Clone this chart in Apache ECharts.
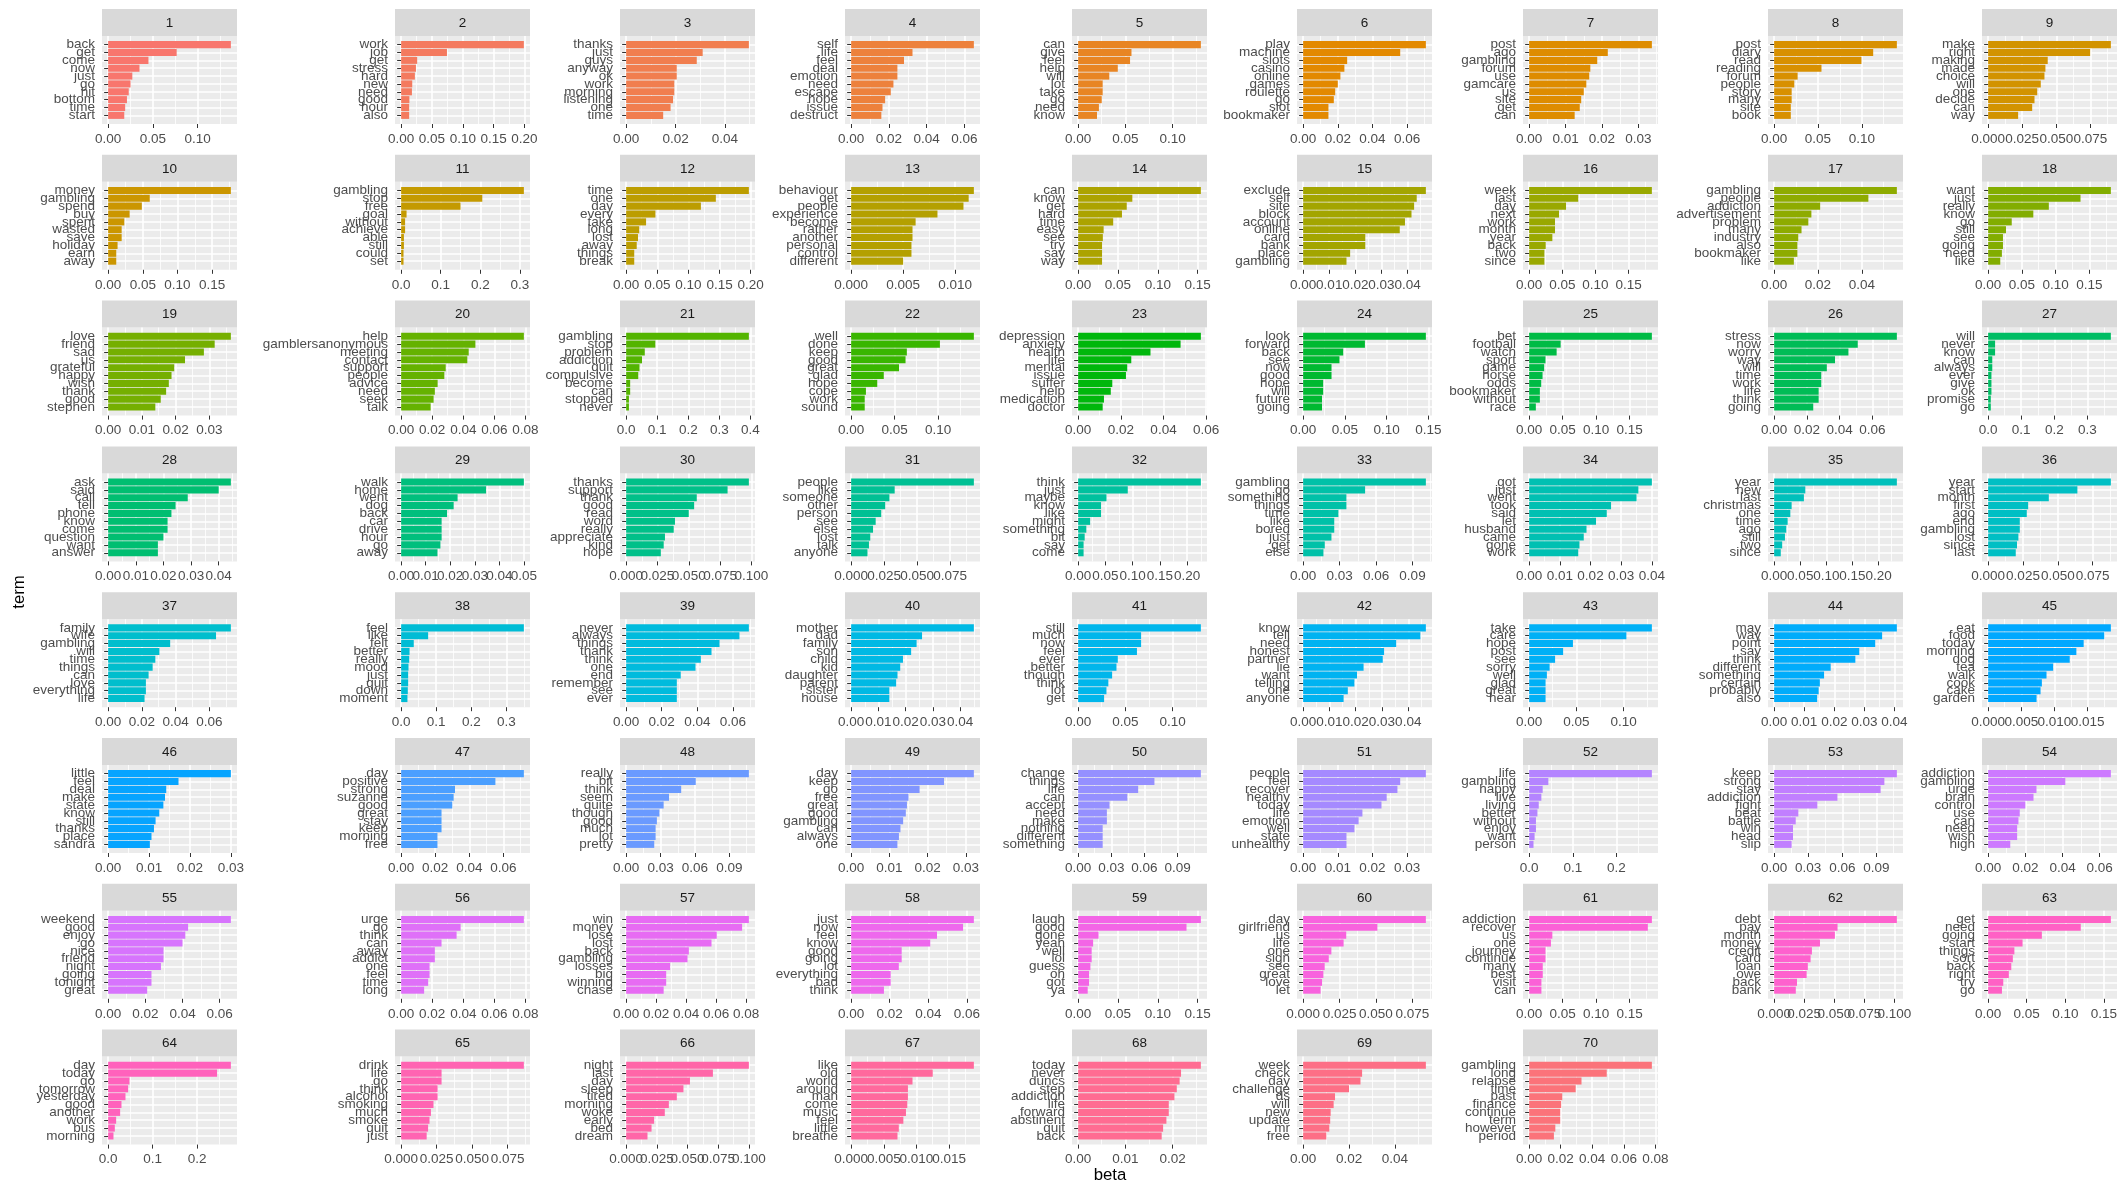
<!DOCTYPE html>
<html>
<head>
<meta charset="utf-8">
<script src="https://cdn.jsdelivr.net/npm/echarts@6/dist/echarts.min.js"></script>
<style>
  html, body { margin: 0; padding: 0; background: #ffffff; }
  #chart { width: 2123px; height: 1187px; }
</style>
</head>
<body>
<div id="chart"></div>
<script>
// Top 10 terms per topic with their per-topic word probabilities (beta)
const terms = [
  ['back','get','come','now','just','go','hit','bottom','time','start'],
  ['work','job','get','stress','hard','new','need','good','hour','also'],
  ['thanks','just','guys','anyway','ok','work','morning','listening','one','time'],
  ['self','life','feel','deal','emotion','need','escape','hope','issue','destruct'],
  ['can','give','feel','help','will','lot','take','go','need','know'],
  ['play','machine','slots','casino','online','games','roulette','go','slot','bookmaker'],
  ['post','ago','gambling','forum','use','gamcare','us','site','get','can'],
  ['post','diary','read','reading','forum','people','story','many','site','book'],
  ['make','right','making','made','choice','will','one','decide','can','way'],
  ['money','gambling','spend','buy','spent','wasted','save','holiday','earn','away'],
  ['gambling','stop','free','goal','without','achieve','able','still','could','set'],
  ['time','one','day','every','take','long','lost','away','things','break'],
  ['behaviour','get','people','experience','become','rather','another','personal','control','different'],
  ['can','know','get','hard','time','easy','see','try','say','way'],
  ['exclude','self','site','block','account','online','card','bank','place','gambling'],
  ['week','last','day','next','work','month','year','back','two','since'],
  ['gambling','people','addiction','advertisement','problem','many','industry','also','bookmaker','like'],
  ['want','just','really','know','go','still','see','going','need','like'],
  ['love','friend','sad','us','grateful','happy','wish','thank','good','stephen'],
  ['help','gamblersanonymous','meeting','contact','support','people','advice','need','seek','talk'],
  ['gambling','stop','problem','addiction','quit','compulsive','become','can','stopped','never'],
  ['well','done','keep','good','great','glad','hope','cope','work','sound'],
  ['depression','anxiety','health','life','mental','issue','suffer','help','medication','doctor'],
  ['look','forward','back','see','now','good','hope','will','future','going'],
  ['bet','football','watch','sport','game','horse','odds','bookmaker','without','race'],
  ['stress','now','worry','way','will','time','work','life','think','going'],
  ['will','never','know','can','always','ever','give','ok','promise','go'],
  ['ask','said','call','tell','phone','know','come','question','want','answer'],
  ['walk','home','went','dog','back','car','drive','hour','go','away'],
  ['thanks','support','thank','good','read','word','really','appreciate','kind','hope'],
  ['people','like','someone','other','person','see','else','lost','talk','anyone'],
  ['think','just','maybe','know','like','might','something','bit','say','come'],
  ['gambling','go','something','things','time','like','bored','just','get','else'],
  ['got','just','went','took','said','let','husband','came','gone','work'],
  ['year','new','last','christmas','one','time','ago','still','two','since'],
  ['year','start','month','first','ago','end','gambling','lost','since','last'],
  ['family','wife','gambling','will','time','things','can','love','everything','life'],
  ['feel','like','felt','better','really','mood','just','quit','down','moment'],
  ['never','always','things','thank','think','one','end','remember','see','ever'],
  ['mother','dad','family','son','child','kid','daughter','parent','sister','house'],
  ['still','much','now','feel','ever','better','though','think','lot','get'],
  ['know','tell','need','honest','partner','lie','want','telling','one','anyone'],
  ['take','care','hope','post','see','sorry','well','glad','great','hear'],
  ['may','way','point','say','think','different','something','certain','probably','also'],
  ['eat','food','today','morning','dog','tea','walk','cook','cake','garden'],
  ['little','feel','deal','make','state','know','still','thanks','place','sandra'],
  ['day','positive','strong','suzanne','good','great','stay','keep','morning','free'],
  ['really','bit','think','seem','quite','though','good','much','lot','pretty'],
  ['day','keep','go','free','great','good','gambling','can','always','one'],
  ['change','things','life','can','accept','need','make','nothing','different','something'],
  ['people','feel','recover','healthy','today','life','emotion','well','state','unhealthy'],
  ['life','gambling','happy','live','living','better','without','enjoy','want','person'],
  ['keep','strong','stay','addiction','fight','beat','battle','win','head','slip'],
  ['addiction','gambling','urge','brain','control','use','can','need','wish','high'],
  ['weekend','good','enjoy','go','nice','friend','night','going','tonight','great'],
  ['urge','go','think','can','away','addict','one','feel','time','long'],
  ['win','money','lose','lost','back','gambling','losses','big','winning','chase'],
  ['just','now','feel','know','good','going','lot','everything','bad','think'],
  ['laugh','good','gone','yeah','well','lol','guess','oh','got','ya'],
  ['day','girlfriend','us','life','one','sign','see','great','love','let'],
  ['addiction','recover','us','one','journey','continue','many','best','visit','can'],
  ['debt','pay','month','money','credit','card','loan','owe','back','bank'],
  ['get','need','going','start','things','sort','back','right','try','go'],
  ['day','today','go','tomorrow','yesterday','good','another','work','bus','morning'],
  ['drink','life','go','think','alcohol','smoking','much','smoke','quit','just'],
  ['night','last','day','sleep','tired','morning','woke','early','bed','dream'],
  ['like','old','world','around','man','come','music','feel','little','breathe'],
  ['today','never','duncs','step','addiction','life','forward','abstinent','quit','back'],
  ['week','check','day','challenge','ds','will','new','update','mr','free'],
  ['gambling','long','relapse','time','past','finance','continue','term','however','period']
];

const betas = [
  [0.137,0.0765,0.045,0.035,0.027,0.025,0.023,0.021,0.019,0.018],
  [0.199,0.0743,0.026,0.024,0.0223,0.018,0.0175,0.0134,0.013,0.013],
  [0.0497,0.031,0.0286,0.0205,0.0205,0.0195,0.0195,0.019,0.018,0.015],
  [0.065,0.0325,0.028,0.0245,0.0245,0.0224,0.021,0.018,0.0166,0.016],
  [0.130,0.0565,0.055,0.042,0.033,0.026,0.026,0.025,0.022,0.020],
  [0.0708,0.056,0.0254,0.0238,0.0215,0.020,0.0185,0.0177,0.0146,0.0146],
  [0.0337,0.0216,0.0187,0.0168,0.0165,0.0157,0.015,0.0143,0.0139,0.0125],
  [0.140,0.113,0.0996,0.054,0.0268,0.023,0.020,0.020,0.019,0.019],
  [0.090,0.0748,0.0437,0.042,0.0413,0.0386,0.036,0.034,0.0323,0.022],
  [0.177,0.060,0.0486,0.031,0.0233,0.0195,0.0195,0.0136,0.0117,0.0117],
  [0.31,0.205,0.150,0.0137,0.010,0.010,0.007,0.007,0.006,0.006],
  [0.197,0.144,0.120,0.047,0.032,0.021,0.019,0.017,0.013,0.013],
  [0.0118,0.0113,0.0108,0.0083,0.0062,0.0059,0.0059,0.0058,0.0058,0.005],
  [0.154,0.068,0.061,0.055,0.044,0.032,0.031,0.030,0.030,0.030],
  [0.047,0.0435,0.0425,0.0415,0.039,0.037,0.0238,0.0238,0.018,0.0166],
  [0.185,0.074,0.0556,0.045,0.039,0.039,0.035,0.025,0.023,0.023],
  [0.056,0.043,0.021,0.017,0.0156,0.0125,0.011,0.0106,0.0106,0.009],
  [0.182,0.137,0.090,0.067,0.035,0.0265,0.022,0.022,0.0204,0.018],
  [0.0364,0.0316,0.0284,0.0228,0.0196,0.0188,0.018,0.0172,0.0156,0.014],
  [0.079,0.0478,0.0435,0.0426,0.0287,0.0278,0.0235,0.0217,0.0209,0.019],
  [0.395,0.094,0.060,0.051,0.043,0.039,0.013,0.013,0.009,0.009],
  [0.141,0.102,0.064,0.0625,0.055,0.0375,0.030,0.017,0.0156,0.0156],
  [0.0575,0.048,0.0339,0.0249,0.023,0.0224,0.016,0.0153,0.0121,0.0115],
  [0.147,0.074,0.048,0.0435,0.034,0.034,0.024,0.024,0.0226,0.0226],
  [0.183,0.047,0.041,0.0244,0.0224,0.020,0.018,0.016,0.016,0.010],
  [0.075,0.0511,0.0454,0.0372,0.0322,0.0288,0.0288,0.0272,0.0272,0.0239],
  [0.371,0.021,0.021,0.0125,0.0125,0.010,0.010,0.010,0.008,0.008],
  [0.0444,0.040,0.0288,0.0244,0.0229,0.0215,0.0215,0.020,0.018,0.018],
  [0.050,0.0346,0.023,0.0214,0.0187,0.0165,0.0165,0.0165,0.016,0.0148],
  [0.098,0.081,0.0564,0.0543,0.050,0.039,0.038,0.031,0.030,0.0277],
  [0.093,0.033,0.029,0.0258,0.0228,0.0186,0.0166,0.0145,0.0135,0.0124],
  [0.225,0.091,0.052,0.042,0.042,0.022,0.015,0.012,0.010,0.010],
  [0.101,0.051,0.0356,0.0356,0.029,0.0256,0.0256,0.0233,0.0178,0.0167],
  [0.040,0.0356,0.035,0.0267,0.0253,0.0218,0.0187,0.0178,0.0164,0.016],
  [0.235,0.0597,0.057,0.0335,0.031,0.0259,0.0232,0.0207,0.0154,0.0127],
  [0.088,0.064,0.0435,0.0287,0.0277,0.0227,0.0227,0.0217,0.0207,0.0198],
  [0.0728,0.064,0.0368,0.0304,0.028,0.0264,0.024,0.0224,0.0224,0.0216],
  [0.35,0.077,0.036,0.024,0.023,0.021,0.020,0.020,0.019,0.018],
  [0.069,0.0637,0.0525,0.048,0.042,0.039,0.0307,0.0285,0.0285,0.0285],
  [0.045,0.026,0.024,0.022,0.019,0.018,0.017,0.0165,0.014,0.014],
  [0.130,0.0667,0.0667,0.0623,0.042,0.0406,0.036,0.032,0.030,0.0275],
  [0.0467,0.0446,0.0354,0.0308,0.0303,0.023,0.0205,0.0195,0.017,0.0154],
  [0.130,0.103,0.0464,0.036,0.0275,0.0217,0.0188,0.0174,0.0174,0.0174],
  [0.0408,0.0359,0.0336,0.0283,0.027,0.0188,0.0166,0.0152,0.0148,0.0143],
  [0.0185,0.0175,0.0144,0.0133,0.0123,0.0098,0.0088,0.0081,0.0079,0.0073],
  [0.030,0.0172,0.0142,0.0139,0.0135,0.0125,0.0116,0.0112,0.0106,0.0102],
  [0.072,0.0553,0.0316,0.0308,0.030,0.0237,0.0237,0.0237,0.0213,0.0213],
  [0.107,0.0607,0.048,0.0374,0.0327,0.029,0.0268,0.0257,0.0257,0.0245],
  [0.0321,0.0243,0.0179,0.015,0.0146,0.0143,0.0136,0.0129,0.0125,0.0121],
  [0.111,0.069,0.0543,0.0445,0.0284,0.026,0.026,0.0222,0.0222,0.0222],
  [0.0354,0.028,0.0272,0.0241,0.0226,0.0171,0.016,0.0148,0.0125,0.0125],
  [0.281,0.044,0.031,0.028,0.022,0.019,0.0156,0.0156,0.0125,0.010],
  [0.108,0.097,0.0937,0.0557,0.038,0.0213,0.019,0.0166,0.0166,0.0154],
  [0.066,0.0415,0.026,0.0244,0.020,0.017,0.0163,0.0156,0.0156,0.0119],
  [0.066,0.043,0.0415,0.040,0.0298,0.0298,0.0284,0.0233,0.0233,0.021],
  [0.079,0.0383,0.0357,0.026,0.0217,0.0217,0.0183,0.0183,0.0174,0.0148],
  [0.0818,0.0773,0.0604,0.0569,0.0418,0.0409,0.0293,0.0267,0.0267,0.025],
  [0.0636,0.058,0.0445,0.041,0.0262,0.0262,0.0247,0.0205,0.0205,0.017],
  [0.154,0.136,0.0256,0.0188,0.017,0.017,0.0154,0.0137,0.0137,0.012],
  [0.0843,0.051,0.0296,0.0278,0.0194,0.0176,0.0148,0.0139,0.013,0.012],
  [0.183,0.177,0.0346,0.0325,0.0244,0.0244,0.0203,0.0203,0.0183,0.0183],
  [0.102,0.0527,0.0505,0.0381,0.0314,0.0303,0.028,0.027,0.019,0.018],
  [0.159,0.12,0.0696,0.0446,0.034,0.032,0.030,0.0268,0.0196,0.0179],
  [0.276,0.245,0.048,0.045,0.039,0.030,0.027,0.018,0.015,0.012],
  [0.0865,0.0285,0.0285,0.0257,0.0257,0.0228,0.021,0.020,0.019,0.018],
  [0.100,0.0707,0.052,0.0467,0.0413,0.0348,0.0315,0.0228,0.0207,0.0174],
  [0.0188,0.0125,0.0094,0.0087,0.0087,0.0086,0.0084,0.008,0.0073,0.0071],
  [0.026,0.0218,0.0215,0.0209,0.0204,0.0192,0.0192,0.0187,0.018,0.0177],
  [0.0535,0.0257,0.025,0.020,0.0139,0.0133,0.012,0.0118,0.0114,0.0101],
  [0.0778,0.0492,0.0332,0.0295,0.021,0.0203,0.0197,0.0197,0.0166,0.0157]
];

// Spacing between the labelled x-axis breaks of each topic panel
const tickSteps = [
  0.05,0.05,0.02,0.02,0.05,0.02,0.01,0.05,0.025,
  0.05,0.1,0.05,0.005,0.05,0.01,0.05,0.02,0.05,
  0.01,0.02,0.1,0.05,0.02,0.05,0.05,0.02,0.1,
  0.01,0.01,0.025,0.025,0.05,0.03,0.01,0.05,0.025,
  0.02,0.1,0.02,0.01,0.05,0.01,0.05,0.01,0.005,
  0.01,0.02,0.03,0.01,0.03,0.01,0.1,0.03,0.02,
  0.02,0.02,0.02,0.02,0.05,0.025,0.05,0.025,0.05,
  0.1,0.025,0.025,0.005,0.01,0.02,0.02
];

// Topic strip labels
const topics = terms.map((_, i) => String(i + 1));

// ---- layout of the facet grid ----
const FONT = '"Liberation Sans", Arial, sans-serif';
const COL_LEFT = [102, 395, 620, 845, 1072, 1297, 1523, 1768, 1982];
const PANEL_W = 135, STRIP_H = 27, PANEL_H = 88;
const ROW0 = 9, ROW_PITCH = 145.8;
const N_COLS = 9;

// R-style hcl() colour (polar Luv -> sRGB), as used by the default discrete hue scale
function hcl(h, c, l) {
  const hr = h * Math.PI / 180;
  const U = c * Math.cos(hr), V = c * Math.sin(hr);
  const WX = 95.047, WY = 100.0, WZ = 108.883;
  const Y = WY * (l > 7.999592 ? Math.pow((l + 16) / 116, 3) : l / 903.3);
  const t = WX + WY + WZ, x = WX / t, y = WY / t;
  const uN = 2 * x / (6 * y - x + 1.5), vN = 4.5 * y / (6 * y - x + 1.5);
  const u = U / (13 * l) + uN, v = V / (13 * l) + vN;
  const X = 9.0 * Y * u / (4 * v);
  const Z = -X / 3 - 5 * Y + 3 * Y / v;
  const g = q => {
    const r = q > 0.00304 ? 1.055 * Math.pow(q, 1 / 2.4) - 0.055 : 12.92 * q;
    return Math.round(255 * Math.min(1, Math.max(0, r)));
  };
  const R = g((3.240479 * X - 1.537150 * Y - 0.498535 * Z) / WY);
  const G = g((-0.969256 * X + 1.875992 * Y + 0.041556 * Z) / WY);
  const B = g((0.055648 * X - 0.204043 * Y + 1.057311 * Z) / WY);
  return 'rgb(' + R + ',' + G + ',' + B + ')';
}
const nTopics = terms.length;
const palette = terms.map((_, i) => hcl(15 + 360 * i / nTopics, 100, 65));

function decimalsOf(step) {
  let d = 0;
  while (d < 6 && Math.abs(Math.round(step * Math.pow(10, d)) - step * Math.pow(10, d)) > 1e-9) d++;
  return d;
}

const grids = [], xAxes = [], yAxes = [], series = [], graphics = [];

terms.forEach((termList, i) => {
  const col = i % N_COLS, row = Math.floor(i / N_COLS);
  const left = COL_LEFT[col];
  const stripTop = ROW0 + row * ROW_PITCH;
  const panelTop = stripTop + STRIP_H;
  const vals = betas[i];
  const vmax = Math.max.apply(null, vals);
  const lo = -0.05 * vmax, hi = 1.05 * vmax;   // 5% continuous expansion
  const step = tickSteps[i];
  const dec = decimalsOf(step);
  const major = [], minor = [];
  for (let k = 0; k * step <= hi + 1e-12; k++) major.push(+(k * step).toFixed(8));
  for (let k = 0; (k + 0.5) * step <= hi; k++) minor.push(+((k + 0.5) * step).toFixed(8));
  // labels are split over two axes (alternate breaks) so crowded labels all stay drawn
  const evenLabels = major.filter((_, k) => k % 2 === 0);
  const oddLabels = major.filter((_, k) => k % 2 === 1);

  // strip header
  graphics.push({
    type: 'rect', silent: true, z: 0,
    shape: { x: left, y: stripTop, width: PANEL_W, height: STRIP_H },
    style: { fill: '#D9D9D9' }
  });
  graphics.push({
    type: 'text', silent: true, z: 1,
    x: left + PANEL_W / 2, y: stripTop + STRIP_H / 2 + 0.5,
    style: { text: topics[i], fill: '#1A1A1A', fontSize: 13.5, fontFamily: FONT, align: 'center', verticalAlign: 'middle' }
  });

  // panel background + vertical grid lines (full panel height)
  const gA = grids.length;
  grids.push({ left: left, top: panelTop, width: PANEL_W, height: PANEL_H, show: true, backgroundColor: '#EBEBEB', borderWidth: 0 });
  // inner band area for the discrete axis (0.6 category expansion each side)
  const pad = PANEL_H * 0.6 / (termList.length + 1.2);
  const gB = grids.length;
  grids.push({ left: left, top: panelTop + pad, width: PANEL_W, height: PANEL_H - 2 * pad, show: false });

  // major breaks: ticks + grid lines
  xAxes.push({
    gridIndex: gA, type: 'value', position: 'bottom', offset: 0, min: lo, max: hi,
    axisLine: { show: false },
    axisTick: { show: true, customValues: major, length: 4, lineStyle: { color: '#333333', width: 1 } },
    axisLabel: { show: false },
    splitLine: { show: true, lineStyle: { color: '#FFFFFF', width: 1.6 } }
  });
  // minor breaks: thinner grid lines
  xAxes.push({
    gridIndex: gA, type: 'value', position: 'bottom', offset: 0, min: lo, max: hi,
    axisLine: { show: false },
    axisTick: { show: false, customValues: minor },
    axisLabel: { show: false },
    splitLine: { show: true, lineStyle: { color: '#FFFFFF', width: 0.8 } }
  });
  // break labels
  [evenLabels, oddLabels].forEach(vs => {
    xAxes.push({
      gridIndex: gA, type: 'value', position: 'bottom', offset: 0, min: lo, max: hi,
      axisLine: { show: false },
      axisTick: { show: false, customValues: vs },
      splitLine: { show: false },
      axisLabel: {
        show: vs.length > 0, customValues: vs, formatter: v => v.toFixed(dec),
        color: '#4D4D4D', fontSize: 13.5, fontFamily: FONT, margin: 8,
        hideOverlap: false, showMinLabel: true, showMaxLabel: true
      }
    });
  });
  const xBar = xAxes.length;
  xAxes.push({ gridIndex: gB, type: 'value', position: 'bottom', min: lo, max: hi, show: false });

  yAxes.push({ gridIndex: gA, type: 'value', min: 0, max: 1, show: false });
  const yBar = yAxes.length;
  yAxes.push({
    gridIndex: gB, type: 'category', position: 'left', inverse: true, data: termList,
    axisLine: { show: false },
    axisTick: { show: true, alignWithLabel: true, interval: 0, length: 4, lineStyle: { color: '#333333', width: 1 } },
    axisLabel: { interval: 0, hideOverlap: false, color: '#4D4D4D', fontSize: 13.5, fontFamily: FONT, margin: 7 },
    splitLine: { show: true, interval: 0, alignWithLabel: true, lineStyle: { color: '#FFFFFF', width: 1.6 } }
  });

  series.push({
    type: 'bar', xAxisIndex: xBar, yAxisIndex: yBar,
    data: vals, barCategoryGap: '10%', silent: true,
    itemStyle: { color: palette[i] }
  });
});

// axis titles
graphics.push({
  type: 'text', silent: true, x: 19, y: 592, rotation: Math.PI / 2,
  style: { text: 'term', fill: '#000000', fontSize: 16.8, fontFamily: FONT, align: 'center', verticalAlign: 'middle' }
});
graphics.push({
  type: 'text', silent: true, x: 1110, y: 1175,
  style: { text: 'beta', fill: '#000000', fontSize: 16.8, fontFamily: FONT, align: 'center', verticalAlign: 'middle' }
});

const chart = echarts.init(document.getElementById('chart'), null, { renderer: 'canvas' });
chart.setOption({
  animation: false,
  backgroundColor: '#FFFFFF',
  grid: grids,
  xAxis: xAxes,
  yAxis: yAxes,
  series: series,
  graphic: { elements: graphics }
});
</script>
</body>
</html>
